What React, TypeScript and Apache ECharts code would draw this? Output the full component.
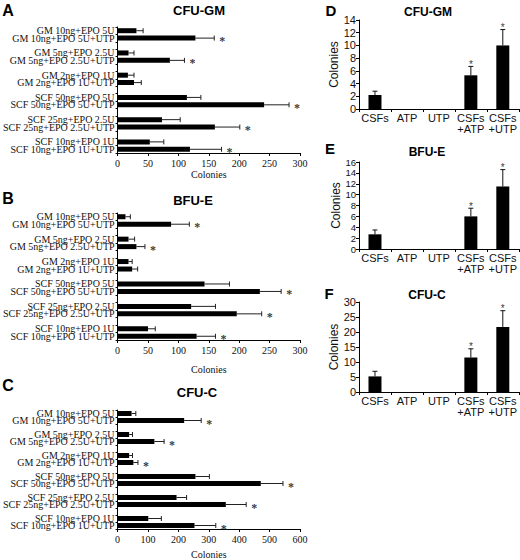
import React, { useEffect, useRef } from "react";
import * as echarts from "echarts";

// ---------- data: left panels (horizontal bars) ----------
const leftCategories = [
  "GM 10ng+EPO 5U", "GM 10ng+EPO 5U+UTP", "",
  "GM 5ng+EPO 2.5U", "GM 5ng+EPO 2.5U+UTP", "",
  "GM 2ng+EPO 1U", "GM 2ng+EPO 1U+UTP", "",
  "SCF 50ng+EPO 5U", "SCF 50ng+EPO 5U+UTP", "",
  "SCF 25ng+EPO 2.5U", "SCF 25ng+EPO 2.5U+UTP", "",
  "SCF 10ng+EPO 1U", "SCF 10ng+EPO 1U+UTP",
];
const leftSlots = [0, 1, 3, 4, 6, 7, 9, 10, 12, 13, 15, 16];

const aValues = [31, 128, 18, 86, 17, 27, 114, 241, 73, 160, 53, 119];
const aErrors = [42, 159, 27, 110, 27, 39, 137, 282, 103, 201, 76, 171];
const aSig = [0, 1, 0, 1, 0, 0, 0, 1, 0, 1, 0, 1];

const bValues = [13, 88, 18, 31, 18, 24, 143, 234, 121, 196, 50, 130];
const bErrors = [21, 118, 28, 45, 24, 33, 184, 269, 161, 237, 62, 161];
const bSig = [0, 1, 0, 1, 0, 0, 0, 1, 0, 1, 0, 1];

const cValues = [46, 219, 38, 121, 38, 52, 256, 471, 194, 356, 101, 253];
const cErrors = [60, 275, 49, 153, 49, 67, 302, 544, 227, 423, 144, 323];
const cSig = [0, 1, 0, 1, 0, 1, 0, 1, 0, 1, 0, 1];

const leftAxisMax = [300, 300, 600];
const leftAxisInterval = [50, 50, 100];

// ---------- data: right panels (vertical bars) ----------
const rightCategories = ["CSFs", "ATP", "UTP", "CSFs\n+ATP", "CSFs\n+UTP"];
const dValues = [2.2, 0, 0, 5.3, 10.0];
const dErrors = [2.8, 0, 0, 6.7, 12.5];
const eValues = [2.7, 0, 0, 6.0, 11.5];
const eErrors = [3.5, 0, 0, 7.5, 14.6];
const fValues = [5.2, 0, 0, 11.5, 21.7];
const fErrors = [6.9, 0, 0, 14.4, 27.1];
const rightSig = [0, 0, 0, 1, 1];
const rightAxisMax = [14, 16, 30];
const rightAxisInterval = [2, 2, 5];

const SERIF = "'Liberation Serif', 'Times New Roman', serif";
const SANS = "'Liberation Sans', Arial, sans-serif";

export default function App() {
  const ref = useRef<HTMLDivElement>(null);

  useEffect(() => {
    document.body.style.margin = "0";
    if (!ref.current) return;
    const chart = echarts.init(ref.current, null, { renderer: "svg" });

    const leftGrids = [
      { left: 106, top: 27, width: 194, height: 126 },
      { left: 106, top: 213, width: 194, height: 127 },
      { left: 106, top: 410, width: 194, height: 121 },
    ];
    const leftNameGaps = [16, 24, 20];
    const rightGrids = [
      { left: 359, top: 20, width: 160, height: 89 },
      { left: 359, top: 162, width: 160, height: 87 },
      { left: 359, top: 302, width: 160, height: 90 },
    ];

    const leftSets = [
      [aValues, aErrors, aSig],
      [bValues, bErrors, bSig],
      [cValues, cErrors, cSig],
    ];
    const rightSets = [
      [dValues, dErrors, rightSig],
      [eValues, eErrors, rightSig],
      [fValues, fErrors, rightSig],
    ];

    const grids: any[] = [];
    const xAxes: any[] = [];
    const yAxes: any[] = [];
    const series: any[] = [];

    leftGrids.forEach((g, i) => {
      grids.push(g);
      xAxes.push({
        gridIndex: i,
        type: "value",
        min: 0,
        max: leftAxisMax[i],
        interval: leftAxisInterval[i],
        axisLine: { show: true, lineStyle: { color: "#000", width: 1 } },
        axisTick: { show: true, length: 3, lineStyle: { color: "#000" } },
        splitLine: { show: false },
        axisLabel: { fontFamily: SERIF, fontSize: 10, color: "#111", margin: 5, showMinLabel: true, showMaxLabel: true },
        name: "Colonies",
        nameLocation: "middle",
        nameGap: leftNameGaps[i],
        nameTextStyle: { fontFamily: SERIF, fontSize: 10, color: "#111" },
      });
      yAxes.push({
        gridIndex: i,
        type: "category",
        inverse: true,
        data: leftCategories,
        axisLine: { show: true, lineStyle: { color: "#000", width: 1 } },
        axisTick: { show: true, length: 2, lineStyle: { color: "#000" } },
        axisLabel: { fontFamily: SERIF, fontSize: 10, lineHeight: 7, color: "#111", margin: 3, interval: 0, hideOverlap: false },
        splitLine: { show: false },
      });
      const [vals, errs, sig] = leftSets[i];
      const barData: any[] = leftCategories.map(() => "-");
      leftSlots.forEach((s, k) => (barData[s] = vals[k]));
      series.push({
        type: "bar",
        xAxisIndex: i,
        yAxisIndex: i,
        data: barData,
        barWidth: 5,
        itemStyle: { color: "#000" },
        silent: true,
      });
      series.push({
        type: "custom",
        xAxisIndex: i,
        yAxisIndex: i,
        encode: { x: [1, 2], y: 0 },
        itemStyle: { color: "#111" },
        data: leftSlots.map((s, k) => [s, vals[k], errs[k]]),
        renderItem: (params: any, api: any) => {
          const y = api.value(0);
          const v = api.value(1);
          const e = api.value(2);
          const p0 = api.coord([v, y]);
          const p1 = api.coord([e, y]);
          return {
            type: "group",
            children: [
              { type: "line", shape: { x1: p0[0], y1: p0[1], x2: p1[0], y2: p1[1] }, style: { stroke: "#222", lineWidth: 1 } },
              { type: "line", shape: { x1: p1[0], y1: p1[1] - 2.5, x2: p1[0], y2: p1[1] + 2.5 }, style: { stroke: "#222", lineWidth: 1 } },
            ],
          };
        },
        silent: true,
      });
      // significance asterisks
      series.push({
        type: "scatter",
        xAxisIndex: i,
        yAxisIndex: i,
        symbolSize: 0,
        itemStyle: { color: "#111" },
        data: leftSlots
          .map((s, k) => (sig[k] ? [errs[k], s] : null))
          .filter((d) => d !== null),
        label: {
          show: true,
          formatter: "*",
          position: "right",
          distance: 5,
          offset: [0, 3],
          color: "#000",
          fontFamily: SERIF,
          fontSize: 12,
          fontWeight: "bold",
        },
        silent: true,
      });
    });

    rightGrids.forEach((g, j) => {
      const i = j + 3;
      grids.push(g);
      xAxes.push({
        gridIndex: i,
        type: "category",
        data: rightCategories,
        axisLine: { show: true, lineStyle: { color: "#000", width: 1 } },
        axisTick: { show: true, length: 3, alignWithLabel: false, lineStyle: { color: "#000" } },
        axisLabel: { fontFamily: SANS, fontSize: 11, color: "#111", margin: 3, interval: 0, lineHeight: 11 },
        splitLine: { show: false },
      });
      yAxes.push({
        gridIndex: i,
        type: "value",
        min: 0,
        max: rightAxisMax[j],
        interval: rightAxisInterval[j],
        axisLine: { show: true, lineStyle: { color: "#000", width: 1 } },
        axisTick: { show: true, length: 3, lineStyle: { color: "#000" } },
        axisLabel: {
          fontFamily: SANS,
          fontSize: j === 1 ? 9.5 : 11,
          lineHeight: 8,
          color: "#111",
          margin: 3,
          interval: 0,
          showMinLabel: true,
          showMaxLabel: true,
          hideOverlap: false,
        },
        splitLine: { show: false },
        name: "Colonies",
        nameLocation: "middle",
        nameGap: 14,
        nameTextStyle: { fontFamily: SANS, fontSize: 12, color: "#111" },
      });
      const [vals, errs, sig] = rightSets[j];
      series.push({
        type: "bar",
        xAxisIndex: i,
        yAxisIndex: i,
        data: vals,
        barWidth: 13,
        itemStyle: { color: "#000" },
        silent: true,
      });
      series.push({
        type: "custom",
        xAxisIndex: i,
        yAxisIndex: i,
        encode: { x: 0, y: [1, 2] },
        itemStyle: { color: "#111" },
        data: vals.map((v, k) => [k, v, errs[k]]).filter((d) => d[2] > 0),
        renderItem: (params: any, api: any) => {
          const x = api.value(0);
          const v = api.value(1);
          const e = api.value(2);
          const p0 = api.coord([x, v]);
          const p1 = api.coord([x, e]);
          return {
            type: "group",
            children: [
              { type: "line", shape: { x1: p0[0], y1: p0[1], x2: p1[0], y2: p1[1] }, style: { stroke: "#111", lineWidth: 1 } },
              { type: "line", shape: { x1: p1[0] - 2.5, y1: p1[1], x2: p1[0] + 2.5, y2: p1[1] }, style: { stroke: "#111", lineWidth: 1 } },
            ],
          };
        },
        silent: true,
      });
      series.push({
        type: "scatter",
        xAxisIndex: i,
        yAxisIndex: i,
        symbolSize: 0,
        itemStyle: { color: "#111" },
        data: vals
          .map((v, k) => (sig[k] ? [k, errs[k]] : null))
          .filter((d) => d !== null),
        label: {
          show: true,
          formatter: "*",
          position: "top",
          distance: 1,
          offset: [0, 4],
          color: "#000",
          fontFamily: SANS,
          fontSize: 10,
        },
        silent: true,
      });
    });

    const letter = (t: string, x: number, y: number, size: number) => ({
      type: "text",
      x,
      y,
      style: { text: t, fontSize: size, fontWeight: "bold", fontFamily: SANS, fill: "#000", align: "center", verticalAlign: "middle" },
    });

    const graphic = [
      letter("A", 8, 10, 16),
      letter("B", 8, 198, 16),
      letter("C", 8, 385, 16),
      letter("D", 331, 10, 15),
      letter("E", 330, 148, 15),
      letter("F", 329, 293, 15),
      letter("CFU-GM", 199, 10, 13),
      letter("BFU-E", 193, 200, 13),
      letter("CFU-C", 197, 392, 13),
      letter("CFU-GM", 428, 12, 12),
      letter("BFU-E", 427, 152, 12),
      letter("CFU-C", 427, 295, 12),
    ];

    chart.setOption({
      animation: false,
      backgroundColor: "#fff",
      grid: grids,
      xAxis: xAxes,
      yAxis: yAxes,
      series,
      graphic,
    });

    return () => chart.dispose();
  }, []);

  return (
    <div
      ref={ref}
      style={{ position: "absolute", left: 0, top: 0, width: 520, height: 560 }}
    />
  );
}
